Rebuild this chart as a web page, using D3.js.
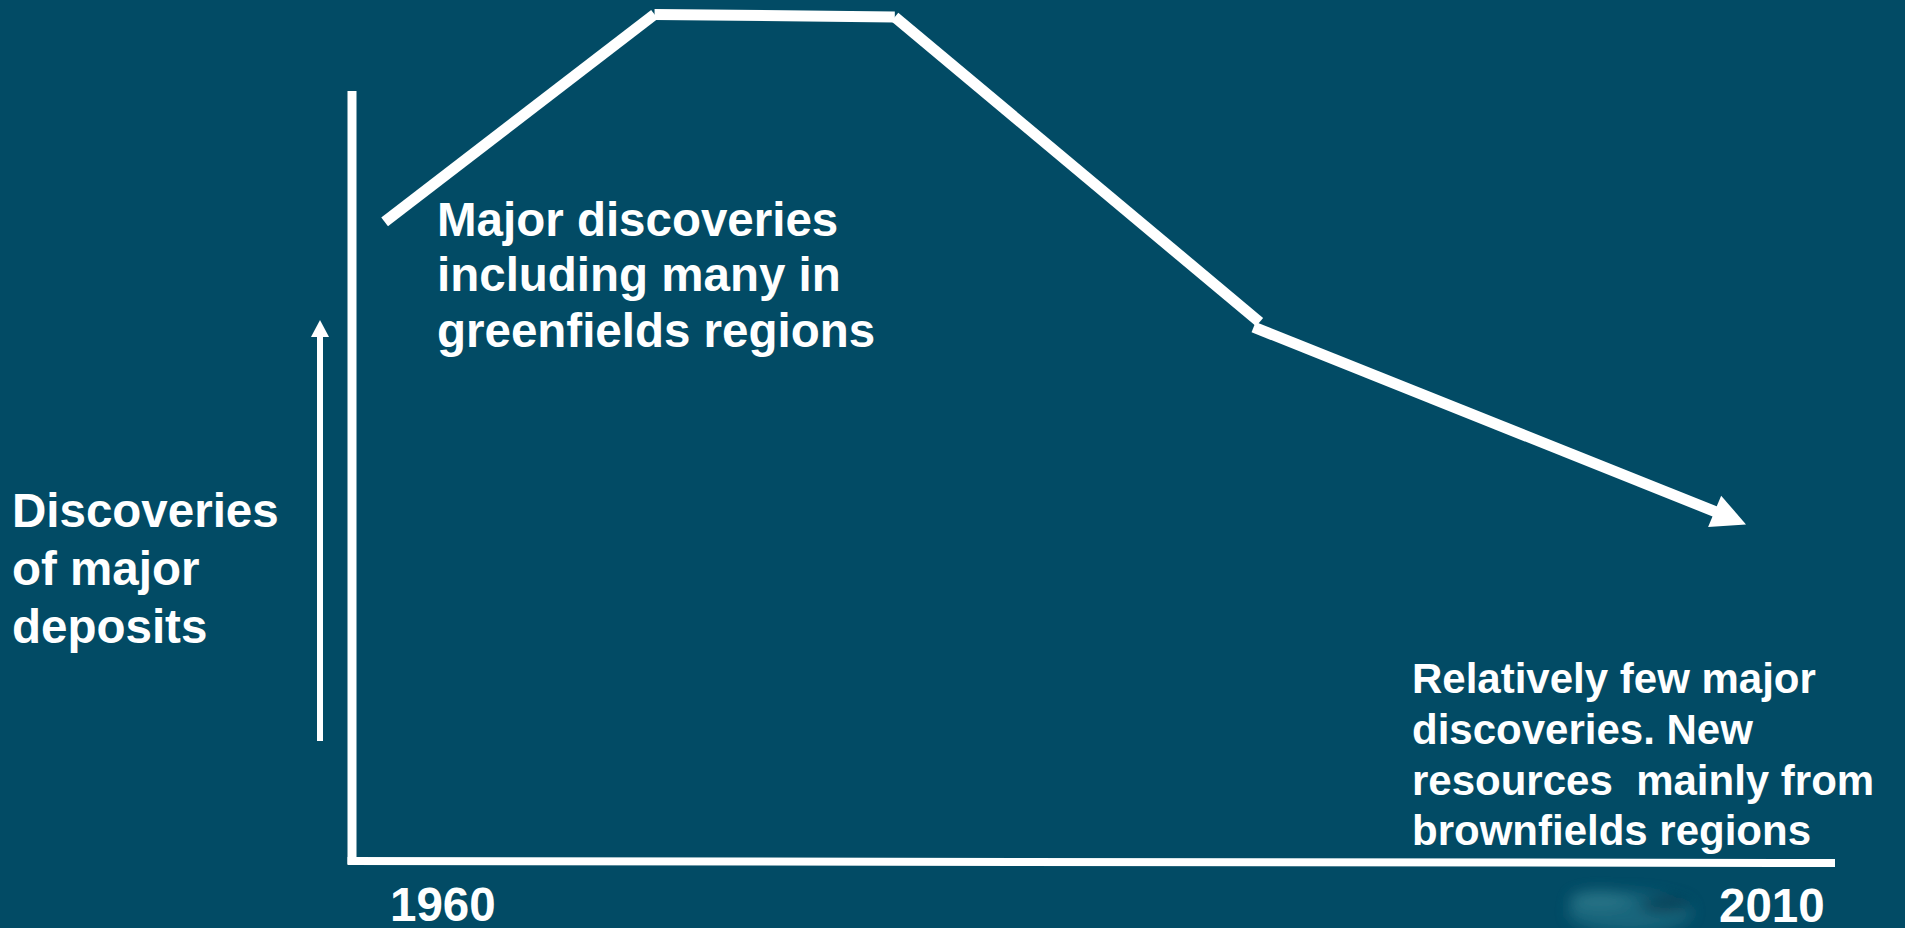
<!DOCTYPE html>
<html>
<head>
<meta charset="utf-8">
<script src="https://cdn.jsdelivr.net/npm/d3@7"></script>
<style>
  html, body { margin: 0; padding: 0; background: #024b65; overflow: hidden; }
  svg { display: block; }
  text { font-family: "Liberation Sans", Arial, sans-serif; font-weight: bold; fill: #ffffff; }
</style>
</head>
<body>
<svg id="chart" width="1905" height="928"></svg>
<script>
// Schematic trend of major deposit discoveries, 1960–2010 (index, peak ≈ 100)
const years = [1961.1, 1970.2, 1978.3, 1990.6, 2007.0];
const discoveryIndex = [75.2, 99.6, 99.3, 63.4, 39.6];
const axisYears = [1960, 2010];
const axisTopValue = 90.6;

const leftLabel = ["Discoveries", "of major", "deposits"];
const peakLabel = ["Major discoveries", "including many in", "greenfields regions"];
const lateLabel = ["Relatively few major", "discoveries. New", "resources\u00a0 mainly from", "brownfields regions"];

const W = 1905, H = 928;
const svg = d3.select("#chart");

const x = d3.scaleLinear().domain(axisYears).range([352, 1835]);
const y = d3.scaleLinear().domain([0, 100]).range([861, 11]);

// faint blurred emblem near the lower right
const defs = svg.append("defs");
defs.append("filter").attr("id", "soft")
  .attr("x", "-50%").attr("y", "-50%").attr("width", "200%").attr("height", "200%")
  .append("feGaussianBlur").attr("stdDeviation", 7);
const emblem = svg.append("g").attr("filter", "url(#soft)").attr("opacity", 0.85);
emblem.append("ellipse").attr("cx", 1630).attr("cy", 912).attr("rx", 62).attr("ry", 20).attr("fill", "#1f6a80");
emblem.append("ellipse").attr("cx", 1600).attr("cy", 900).attr("rx", 30).attr("ry", 9).attr("fill", "#2d7a8c");
emblem.append("ellipse").attr("cx", 1665).attr("cy", 905).attr("rx", 25).attr("ry", 8).attr("fill", "#0a4358");

// axes
svg.append("line")
  .attr("x1", x(axisYears[0])).attr("x2", x(axisYears[0]))
  .attr("y1", y(0) + 3).attr("y2", y(axisTopValue))
  .attr("stroke", "#fff").attr("stroke-width", 9);
svg.append("line")
  .attr("x1", x(axisYears[0]) - 4.5).attr("x2", x(axisYears[1]))
  .attr("y1", y(0)).attr("y2", y(0) + 2)
  .attr("stroke", "#fff").attr("stroke-width", 8);

// small upward arrow beside the vertical axis
const ax = 320, ayTop = 320, ayBot = 741;
svg.append("line").attr("x1", ax).attr("x2", ax).attr("y1", ayBot).attr("y2", ayTop + 14)
  .attr("stroke", "#fff").attr("stroke-width", 6);
svg.append("path")
  .attr("d", `M${ax},${ayTop} L${ax + 9},${ayTop + 17} L${ax - 9},${ayTop + 17} Z`)
  .attr("fill", "#fff");

// trend line, drawn segment by segment
const pts = years.map((yr, i) => [x(yr), y(discoveryIndex[i])]);
const segs = d3.pairs(pts);
const headLen = 34, headHalf = 17;
segs.forEach(([a, b], i) => {
  let end = b;
  let start = a;
  if (i === segs.length - 1) {
    const dx = b[0] - a[0], dy = b[1] - a[1], L = Math.hypot(dx, dy);
    const ux = dx / L, uy = dy / L;
    end = [b[0] - ux * (headLen - 2), b[1] - uy * (headLen - 2)];
    start = [a[0] - 6, a[1] + 5];
    const bx = b[0] - ux * headLen, by = b[1] - uy * headLen;
    svg.append("path")
      .attr("d", `M${b[0]},${b[1]} L${bx - uy * headHalf},${by + ux * headHalf} L${bx + uy * headHalf},${by - ux * headHalf} Z`)
      .attr("fill", "#fff");
  }
  svg.append("line")
    .attr("x1", start[0]).attr("y1", start[1])
    .attr("x2", end[0]).attr("y2", end[1])
    .attr("stroke", "#fff").attr("stroke-width", 11)
    .attr("stroke-linecap", "butt");
});

// annotations
function block(lines, x0, baselines, size) {
  const t = svg.append("text").attr("font-size", size);
  lines.forEach((s, i) => {
    t.append("tspan").attr("x", x0).attr("y", baselines[i]).text(s);
  });
}
block(peakLabel, 437, [236, 291, 347], 47.5);
block(leftLabel, 12, [527, 585, 643], 47.5);
block(lateLabel, 1412, [693, 744, 795, 845], 42);

// year labels
svg.append("text").attr("x", 390).attr("y", 921).attr("font-size", 47.5).text(axisYears[0]);
svg.append("text").attr("x", 1719).attr("y", 922).attr("font-size", 47.5).text(axisYears[1]);
</script>
</body>
</html>
